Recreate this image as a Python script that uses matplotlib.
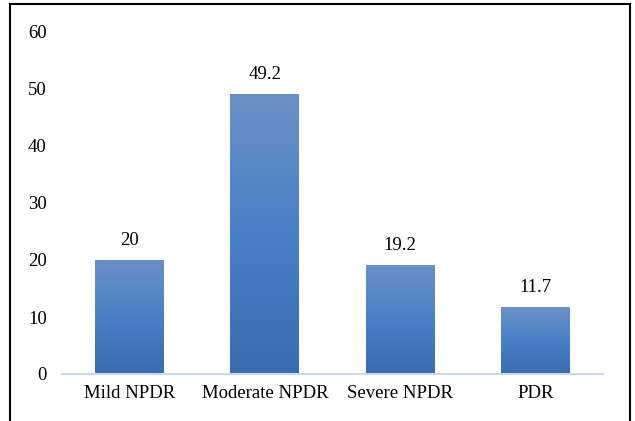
import numpy as np
import matplotlib
matplotlib.use("Agg")
import matplotlib.pyplot as plt
from matplotlib.colors import LinearSegmentedColormap
from matplotlib.patches import Rectangle

categories = ["Mild NPDR", "Moderate NPDR", "Severe NPDR", "PDR"]
values = [20, 49.2, 19.2, 11.7]
labels = ["20", "49.2", "19.2", "11.7"]

plt.rcParams['font.family'] = ['Liberation Serif', 'DejaVu Serif']

fig = plt.figure(figsize=(6.35, 4.21), dpi=100)
ax = fig.add_axes([62/635, 1-374/421, 541/635, (374-32)/421])

x = np.arange(len(categories))
bars = ax.bar(x, values, width=0.51, color='none', zorder=2)

# vertical gradient inside each bar
cmap = LinearSegmentedColormap.from_list("g", ["#3a6cb0", "#4a80c6", "#6b90c6"])
grad = np.linspace(0, 1, 256).reshape(-1, 1)
for b in bars:
    x0, y0 = b.get_x(), b.get_y()
    w, h = b.get_width(), b.get_height()
    im = ax.imshow(grad, cmap=cmap, origin='lower', aspect='auto',
                   extent=(x0, x0 + w, y0, y0 + h), zorder=2)
    im.set_clip_path(b)

for xi, v, lab in zip(x, values, labels):
    ax.text(xi, v + 1.9, lab, ha='center', va='bottom', fontsize=13.5)

ax.set_xlim(-0.5, 3.5)
ax.set_ylim(0, 60)
ax.set_yticks(range(0, 61, 10))
ax.set_xticks(x)
ax.set_xticklabels(categories)
ax.tick_params(axis='both', length=0, labelsize=13.5)
ax.tick_params(axis='y', pad=11)
ax.tick_params(axis='x', pad=8)
for s in ['top', 'right', 'left']:
    ax.spines[s].set_visible(False)
ax.spines['bottom'].set_color('#c9daf0')
ax.spines['bottom'].set_linewidth(1.5)
ax.spines['bottom'].set_zorder(3)

# outer border of the figure
fig.patches.append(Rectangle((10/635, -0.05), 620/635, 1.05 - 4/421,
                             transform=fig.transFigure, fill=False,
                             edgecolor='black', linewidth=1.5))

fig.savefig("out.png", dpi=100)
